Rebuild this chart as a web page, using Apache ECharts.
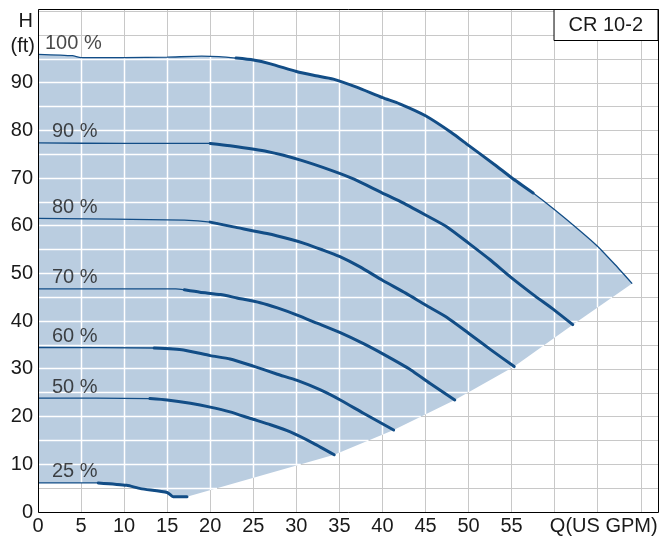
<!DOCTYPE html>
<html><head><meta charset="utf-8">
<script src="https://cdn.jsdelivr.net/npm/echarts@6/dist/echarts.min.js"></script>
<style>html,body{margin:0;padding:0;background:#fff}#c{width:664px;height:537px}</style>
</head><body><div id="c"></div>
<script>
// ---- data (Q in US GPM, H in ft) ----
const speedLabels = ['100 %', '90 %', '80 %', '70 %', '60 %', '50 %', '25 %'];
const c100 = [[0,96],[4,95.7],[5,95.3],[10,95.3],[15,95.4],[19,95.6],[21,95.5],[23,95.2],[25,94.8],[27,94],[30,92.4],[32,91.6],[34.3,90.8],[37,89.1],[40,86.9],[42,85.6],[45,83.1],[48,79.6],[50,76.9],[53,72.9],[55,70.1],[57.5,66.9],[60,63.4],[63,58.9],[65,55.7],[67,51.9],[69,47.9]];
const c90 = [[0,77.4],[10,77.3],[20,77.3],[22.3,76.8],[26.6,75.6],[30.5,73.8],[34.3,71.5],[36.7,69.8],[40,66.9],[42,65.2],[45,62.3],[47.5,59.8],[50,56.4],[52.5,52.9],[55,49.1],[57.5,45.6],[60,42.3],[62.1,39.3]];
const c80 = [[0,61.6],[17,61.2],[20,60.8],[22.7,59.8],[26.6,58.4],[29.3,57.2],[31,56.3],[33,55],[35,53.6],[37.4,51.4],[40,48.6],[42.7,45.9],[45,43.4],[47.5,40.8],[50,37.5],[52.6,34],[55.3,30.5]];
const c70 = [[0,46.8],[16,46.8],[17,46.6],[18.8,46.1],[21.2,45.6],[23.1,44.9],[25.8,43.9],[27.8,42.8],[30.1,41.3],[32.4,39.6],[35.1,37.6],[37.8,35.3],[40.2,33],[43.3,29.8],[45.5,27],[48.4,23.5]];
const c60 = [[0,34.5],[13.5,34.4],[16.9,34],[20,32.8],[22.3,32.1],[25,30.6],[27.8,28.9],[30.1,27.6],[32.8,25.6],[35.1,23.5],[37.8,20.7],[41.3,17.2]];
const c50 = [[0,23.9],[13,23.8],[15,23.5],[17.7,22.8],[20,22],[22.3,21],[24.7,19.6],[27,18.3],[29.3,16.8],[32,14.4],[34.4,12]];
const c25 = [[0,6.1],[7,6.1],[10.3,5.6],[11.9,4.9],[15,4.1],[15.7,3.2],[17.3,3.2]];
const thickFrom = [23, 20, 20, 17, 13.5, 13, 7];
const thickTo = [57.5, 62.1, 55.3, 48.4, 41.3, 34.4, 17.3];
const X_MAX = 72, Y_MAX = 105.5, STEP = 5;

// ---- styles ----
const FONT = '"Liberation Sans", Arial, sans-serif';
const FS = 20;
const TXT = '#1a1a1a';
const FILL = '#bacde0';
const LINE = '#124d86';
const GRID = '#c8c8c8';

const curves = [c100, c90, c80, c70, c60, c50, c25];
const ends = curves.map(c => c[c.length - 1]);
const poly = [...c100, ...ends.slice(1, -1), ...c25.slice().reverse()];

function crossings(axis, v) {
  const o = 1 - axis, res = [];
  for (let i = 0; i < poly.length; i++) {
    const a = poly[i], b = poly[(i + 1) % poly.length];
    if ((a[axis] <= v && b[axis] > v) || (b[axis] <= v && a[axis] > v)) {
      const t = (v - a[axis]) / (b[axis] - a[axis]);
      res.push(a[o] + t * (b[o] - a[o]));
    }
  }
  return res.sort((p, q) => p - q);
}
function crisp(x) { return Math.round(x - 0.5) + 0.5; }

const series = [];
series.push({
  type: 'custom', silent: true, z: 2, clip: true,
  data: [[0, 0]],
  renderItem: (params, api) => {
    const children = [{ type: 'polygon', shape: { points: poly.map(p => api.coord(p)) }, style: { fill: FILL } }];
    for (let q = STEP; q < X_MAX; q += STEP) {
      const ys = crossings(0, q);
      for (let k = 0; k + 1 < ys.length; k += 2) {
        const p1 = api.coord([q, ys[k]]), p2 = api.coord([q, ys[k + 1]]);
        const x = crisp(p1[0]);
        children.push({ type: 'line', shape: { x1: x, y1: p1[1], x2: x, y2: p2[1] }, style: { stroke: '#fff', lineWidth: 1.5 } });
      }
    }
    for (let h = STEP; h < Y_MAX; h += STEP) {
      const xs = crossings(1, h);
      for (let k = 0; k + 1 < xs.length; k += 2) {
        const p1 = api.coord([xs[k], h]), p2 = api.coord([xs[k + 1], h]);
        const y = crisp(p1[1]);
        children.push({ type: 'line', shape: { x1: p1[0], y1: y, x2: p2[0], y2: y }, style: { stroke: '#fff', lineWidth: 1.5 } });
      }
    }
    return { type: 'group', children };
  }
});
curves.forEach((c, i) => {
  series.push({ type: 'line', data: c, showSymbol: false, silent: true, z: 3, smooth: 0.2,
    lineStyle: { width: 1.3, color: LINE } });
  series.push({ type: 'line', data: c.filter(p => p[0] >= thickFrom[i] - 1e-9 && p[0] <= thickTo[i] + 1e-9),
    showSymbol: false, silent: true, z: 4, smooth: 0.2,
    lineStyle: { width: 3, color: LINE, cap: 'round', join: 'round' } });
});
series.push({
  type: 'scatter', silent: true, z: 6, symbolSize: 0,
  itemStyle: { color: 'rgba(0,0,0,0)' },
  data: curves.map((c, i) => ({ value: [c[0][0], c[0][1], speedLabels[i]], label: { position: [i === 0 ? 7 : 14, -11] } })),
  label: { show: true, formatter: p => p.value[2], fontFamily: FONT, fontSize: FS, color: TXT,
    align: 'left', verticalAlign: 'middle' }
});
series.push({
  type: 'custom', silent: true, z: 10, clip: false, data: [[0, 0]],
  renderItem: (params, api) => {
    const a = api.coord([0, Y_MAX]), b = api.coord([X_MAX, 0]);
    const x1 = crisp(a[0]), y1 = crisp(a[1]), x2 = crisp(b[0]), y2 = crisp(b[1]);
    return { type: 'rect', shape: { x: x1, y: y1, width: x2 - x1, height: y2 - y1 }, style: { fill: 'none', stroke: '#000', lineWidth: 1 } };
  }
});

const chart = echarts.init(document.getElementById('c'), null, { renderer: 'canvas' });
chart.setOption({
  animation: false,
  backgroundColor: '#fff',
  grid: { left: 38, right: 6, top: 9, bottom: 25, containLabel: false },
  title: { text: 'CR 10-2', right: 6, top: 9, padding: [6, 15, 6, 15], borderColor: '#000', borderWidth: 1,
    backgroundColor: '#fff', textStyle: { fontFamily: FONT, fontSize: FS, fontWeight: 'normal', color: TXT } },
  xAxis: { type: 'value', min: 0, max: X_MAX, interval: STEP,
    axisLine: { show: false }, axisTick: { show: false },
    splitLine: { show: true, lineStyle: { color: GRID, width: 1 } },
    axisLabel: { margin: 4, fontFamily: FONT, fontSize: FS, color: TXT, showMaxLabel: false,
      formatter: v => v <= 55 ? String(v) : (v === 65 ? '{q|Q(US GPM)}' : ''),
      rich: { q: { fontFamily: FONT, fontSize: FS, color: TXT, padding: [0, 0, 0, 12] } } } },
  yAxis: { type: 'value', min: 0, max: Y_MAX, interval: STEP,
    axisLine: { show: false }, axisTick: { show: false },
    splitLine: { show: true, lineStyle: { color: GRID, width: 1 } },
    axisLabel: { margin: 5, fontFamily: FONT, fontSize: FS, color: TXT, showMaxLabel: false,
      formatter: v => (v % 10 === 0 && v <= 90) ? String(v) : '' } },
  graphic: [
    { type: 'text', silent: true, style: { text: 'H', x: 33, y: 21, align: 'right', verticalAlign: 'middle', font: FS + 'px ' + FONT, fill: TXT } },
    { type: 'text', silent: true, style: { text: '(ft)', x: 35, y: 46, align: 'right', verticalAlign: 'middle', font: FS + 'px ' + FONT, fill: TXT } }
  ],
  series
});
</script></body></html>
